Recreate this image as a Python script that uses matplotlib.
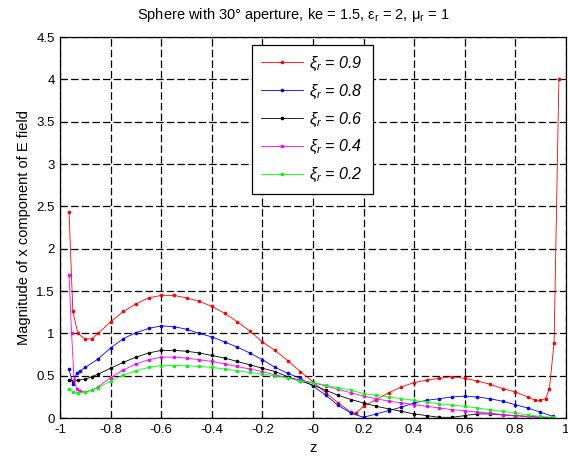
import matplotlib
matplotlib.use('Agg')
import matplotlib.pyplot as plt
import numpy as np

plt.rcParams['font.family'] = ['Liberation Sans', 'DejaVu Sans']
plt.rcParams['mathtext.fontset'] = 'custom'
plt.rcParams['mathtext.it'] = 'Liberation Sans:italic'
plt.rcParams['mathtext.rm'] = 'Liberation Sans'

# --- data ---
z_red = [-0.965, -0.95, -0.93, -0.9, -0.875, -0.85, -0.8, -0.75, -0.7, -0.65, -0.6, -0.55,
         -0.5, -0.45, -0.4, -0.35, -0.3, -0.25, -0.2, -0.15, -0.1, -0.05, 0, 0.05, 0.1, 0.15,
         0.17, 0.2, 0.25, 0.3, 0.35, 0.4, 0.45, 0.5, 0.55, 0.6, 0.65, 0.7, 0.75, 0.8, 0.85,
         0.88, 0.9, 0.92, 0.935, 0.954, 0.973]
e_red = [2.43, 1.26, 1.0, 0.93, 0.94, 1.0, 1.14, 1.26, 1.35, 1.42, 1.45, 1.45,
         1.42, 1.38, 1.32, 1.24, 1.14, 1.03, 0.90, 0.80, 0.68, 0.55, 0.43, 0.30, 0.18, 0.07,
         0.06, 0.14, 0.22, 0.30, 0.37, 0.42, 0.45, 0.47, 0.49, 0.47, 0.44, 0.40, 0.35, 0.31, 0.25,
         0.21, 0.21, 0.23, 0.34, 0.89, 4.01]

z_blue = [-0.965, -0.95, -0.935, -0.92, -0.9, -0.85, -0.8, -0.75, -0.7, -0.65, -0.6, -0.55,
          -0.5, -0.45, -0.4, -0.35, -0.3, -0.25, -0.2, -0.15, -0.1, -0.05, 0, 0.05, 0.1, 0.15,
          0.2, 0.25, 0.3, 0.35, 0.4, 0.45, 0.5, 0.55, 0.6, 0.65, 0.7, 0.75, 0.8, 0.85, 0.9, 0.95]
e_blue = [0.58, 0.40, 0.53, 0.56, 0.60, 0.70, 0.83, 0.94, 1.01, 1.06, 1.09, 1.08,
          1.05, 1.00, 0.96, 0.90, 0.84, 0.77, 0.69, 0.60, 0.53, 0.47, 0.38, 0.27, 0.15, 0.06,
          0.01, 0.05, 0.09, 0.13, 0.18, 0.21, 0.23, 0.25, 0.26, 0.25, 0.23, 0.20, 0.16, 0.12, 0.07, 0.02]

z_black = [-0.965, -0.95, -0.93, -0.9, -0.875, -0.85, -0.8, -0.75, -0.7, -0.65, -0.6, -0.55,
           -0.5, -0.45, -0.4, -0.35, -0.3, -0.25, -0.2, -0.15, -0.1, -0.05, 0, 0.05, 0.1, 0.15,
           0.2, 0.25, 0.3, 0.35, 0.4, 0.45, 0.5, 0.55, 0.6, 0.65, 0.7, 0.75, 0.8, 0.85, 0.9, 0.95]
e_black = [0.45, 0.44, 0.45, 0.46, 0.49, 0.52, 0.59, 0.66, 0.72, 0.77, 0.80, 0.80,
           0.79, 0.77, 0.74, 0.71, 0.67, 0.63, 0.59, 0.55, 0.49, 0.44, 0.39, 0.33, 0.27, 0.22,
           0.18, 0.14, 0.11, 0.08, 0.05, 0.03, 0.01, 0.01, 0.03, 0.05, 0.05, 0.04, 0.03, 0.02, 0.01, 0.0]

z_mag = [-0.965, -0.955, -0.945, -0.935, -0.92, -0.9, -0.875, -0.85, -0.8, -0.75, -0.7, -0.65,
         -0.6, -0.55, -0.5, -0.45, -0.4, -0.35, -0.3, -0.25, -0.2, -0.15, -0.1, -0.05, 0, 0.05,
         0.1, 0.15, 0.2, 0.25, 0.3, 0.35, 0.4, 0.45, 0.5, 0.55, 0.6, 0.65, 0.7, 0.75, 0.8, 0.85,
         0.9, 0.95]
e_mag = [1.69, 1.0, 0.45, 0.35, 0.32, 0.31, 0.33, 0.37, 0.48, 0.57, 0.64, 0.69,
         0.72, 0.72, 0.71, 0.69, 0.67, 0.64, 0.61, 0.58, 0.55, 0.51, 0.48, 0.45, 0.42, 0.38,
         0.34, 0.30, 0.26, 0.23, 0.20, 0.18, 0.16, 0.14, 0.12, 0.10, 0.09, 0.07, 0.06, 0.04, 0.03, 0.02,
         0.01, 0.0]

z_green = [-0.965, -0.95, -0.93, -0.9, -0.875, -0.85, -0.8, -0.75, -0.7, -0.65, -0.6, -0.55,
           -0.5, -0.45, -0.4, -0.35, -0.3, -0.25, -0.2, -0.15, -0.1, -0.05, 0, 0.05, 0.1, 0.15,
           0.2, 0.25, 0.3, 0.35, 0.4, 0.45, 0.5, 0.55, 0.6, 0.65, 0.7, 0.75, 0.8, 0.85, 0.9, 0.95]
e_green = [0.35, 0.31, 0.30, 0.31, 0.33, 0.36, 0.44, 0.51, 0.56, 0.60, 0.62, 0.62,
           0.62, 0.61, 0.60, 0.58, 0.56, 0.54, 0.52, 0.50, 0.47, 0.44, 0.42, 0.39, 0.36, 0.33,
           0.29, 0.27, 0.25, 0.23, 0.21, 0.19, 0.17, 0.155, 0.14, 0.12, 0.10, 0.08, 0.06, 0.04, 0.02, 0.01]

series = [
    (z_red, e_red, '#ff0000', '0.9'),
    (z_blue, e_blue, '#0000ff', '0.8'),
    (z_black, e_black, '#000000', '0.6'),
    (z_mag, e_mag, '#ff00ff', '0.4'),
    (z_green, e_green, '#00ff00', '0.2'),
]

fig = plt.figure(figsize=(5.68, 4.58), dpi=100)
ax = fig.add_axes([0.106, 0.087, 0.890, 0.832])

for z, e, c, lab in series:
    ax.plot(z, e, color=c, lw=0.6, marker='.', ms=3.2,
            label=r'$\xi_r$ = ' + lab)

ax.set_xlim(-1, 1)
ax.set_ylim(0, 4.5)
xt = np.round(np.arange(-1, 1.01, 0.2), 1)
ax.set_xticks(xt)
ax.set_xticklabels(['%g' % v for v in xt])
yt = np.arange(0, 4.51, 0.5)
ax.set_yticks(yt)
ax.set_yticklabels(['%g' % v for v in yt])
ax.tick_params(direction='in', labelsize=9.5, length=4, width=0.8, pad=4)
ax.grid(True, color='black', linestyle=(0, (6, 2.5)), linewidth=0.9)
for s in ax.spines.values():
    s.set_linewidth(0.9)

ax.set_xlabel('z', fontsize=10.5, labelpad=4)
ax.set_ylabel('Magnitude of x component of E field', fontsize=10.5, labelpad=4)
ax.set_title(r'Sphere with 30° aperture, ke = 1.5, $\mathrm{\varepsilon_r}$ = 2, $\mathrm{\mu_r}$ = 1',
             fontsize=10.5, pad=13, x=0.46)

leg = ax.legend(loc='upper left', bbox_to_anchor=(0.379, 0.979),
                prop={'style': 'italic', 'size': 11.5}, frameon=True, fancybox=False,
                edgecolor='black', framealpha=1, handlelength=2.6, handletextpad=0.4,
                labelspacing=0.6, borderpad=0.6, borderaxespad=0)
leg.get_frame().set_linewidth(0.9)

fig.savefig('out.png', dpi=100)
